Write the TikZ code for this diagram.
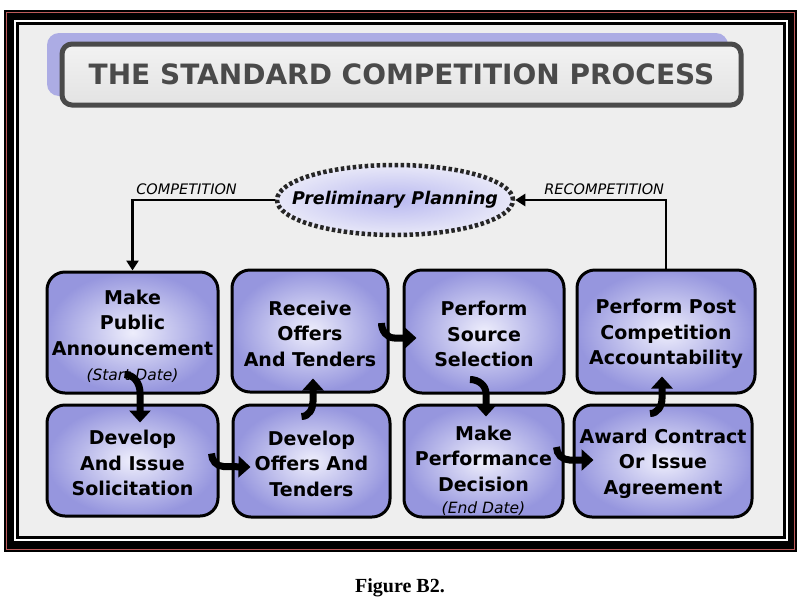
\documentclass[tikz,border=0pt]{standalone}
\usepackage{fontspec}
\setmainfont{Liberation Serif}
\setsansfont{DejaVu Sans}
\usetikzlibrary{arrows.meta,shapes.geometric}
\definecolor{bggray}{RGB}{238,238,238}
\definecolor{framered}{RGB}{190,90,90}
\definecolor{shadowblue}{RGB}{172,172,228}
\definecolor{titlegray}{RGB}{74,74,74}
\definecolor{boxedge}{RGB}{150,150,222}
\definecolor{boxmid}{RGB}{238,238,252}
\definecolor{planmid}{RGB}{185,185,240}
\definecolor{planedge}{RGB}{232,232,248}
\tikzset{
  stepbox/.style={draw=black, line width=3pt, rounded corners=18pt, shading=radial,
    inner color=boxmid, outer color=boxedge, align=center, inner sep=0pt,
    font=\sffamily\bfseries\fontsize{19}{25.5}\selectfont},
  flow/.style={line width=7pt, -{Triangle[width=21pt,length=12pt]}},
  link/.style={line width=2.5pt, -{Triangle[width=12pt,length=10pt]}},
  note/.style={font=\sffamily\itshape\fontsize{14.5}{16}\selectfont},
}
\newcommand{\datenote}[1]{{\fontsize{15.5}{17}\selectfont\mdseries\itshape #1}}
\newcommand{\lift}[1]{\rule{0pt}{#1}}
\begin{document}
\begin{tikzpicture}[x=1pt,y=-1pt]
\useasboundingbox (0,0) rectangle (800,603);
% frame
\fill[black] (4,10) rectangle (797,552);
\draw[framered, line width=0.6pt] (6.5,12.5) rectangle (794.5,549.5);
\fill[white] (14,20) rectangle (788,541);
\fill[black] (16,22) rectangle (786,539);
\fill[bggray] (19,25) rectangle (783,536);
% title
\fill[shadowblue, rounded corners=12pt] (47,33) rectangle (728,96);
\node[draw=titlegray, line width=5pt, rounded corners=10pt, top color=gray!10, bottom color=gray!22,
  minimum width=679pt, minimum height=61pt, text=titlegray,
  font=\sffamily\bfseries\fontsize{28}{30}\selectfont] (title) at (401.5,74.5) {THE STANDARD COMPETITION PROCESS};
% planning
\node[ellipse, draw=black!85, line width=4.5pt, dash pattern=on 3.5pt off 2.5pt, shading=radial,
  inner color=planmid, outer color=planedge, minimum width=236pt, minimum height=70pt,
  inner xsep=-20pt, inner ysep=0pt,
  font=\sffamily\bfseries\itshape\fontsize{17.5}{20}\selectfont] (plan) at (395,200) {Preliminary Planning};
% steps, top row
\node[stepbox, minimum width=171pt, minimum height=121pt] (b1) at (132.5,332.5) {\lift{22.5pt}Make\\Public\\Announcement\\\datenote{(Start Date)}};
\node[stepbox, minimum width=156pt, minimum height=122pt] (b2) at (310,331) {\lift{20pt}Receive\\Offers\\And Tenders};
\node[stepbox, minimum width=160pt, minimum height=123pt] (b3) at (484,331.5) {\lift{20pt}Perform\\Source\\Selection};
\node[stepbox, minimum width=178pt, minimum height=123pt] (b4) at (666,331.5) {\lift{20pt}Perform Post\\Competition\\Accountability};
% steps, bottom row
\node[stepbox, minimum width=171pt, minimum height=111pt] (b5) at (132.5,460.5) {\lift{20pt}Develop\\And Issue\\Solicitation};
\node[stepbox, minimum width=157pt, minimum height=112pt] (b6) at (311.5,461) {\lift{20pt}Develop\\Offers And\\Tenders};
\node[stepbox, minimum width=159pt, minimum height=112pt] (b7) at (483.5,461) {\lift{34pt}Make\\Performance\\Decision\\[-3pt]\datenote{(End Date)}};
\node[stepbox, minimum width=178pt, minimum height=112pt] (b8) at (663,461) {\lift{20pt}Award Contract\\Or Issue\\Agreement};
% loop back
\draw[link] (plan.west) -| node[note, pos=0.31, above=1pt] {COMPETITION} (b1.north);
\draw[link] (b4.north) |- node[note, pos=0.705, above=1pt] {RECOMPETITION} (plan.east);
% curled arrows between steps
\draw[flow] ([shift={(-8,-20)}]b1.south) to[out=0,in=90] ([shift={(7.5,-2)}]b1.south) -- ([shift={(7.5,19)}]b5.north);
\draw[flow] ([shift={(-8,-7)}]b5.east) to[out=-90,in=180] ([shift={(4,6)}]b5.east) -- ([shift={(19,6)}]b6.west);
\draw[flow] ([shift={(-10,13)}]b6.north) to[out=0,in=-90] ([shift={(1.5,-2)}]b6.north) -- ([shift={(3,-15)}]b2.south);
\draw[flow] ([shift={(-8,-8)}]b2.east) to[out=-90,in=180] ([shift={(5,7)}]b2.east) -- ([shift={(14,6.5)}]b3.west);
\draw[flow] ([shift={(-14,-15)}]b3.south) to[out=0,in=90] ([shift={(2,-1)}]b3.south) -- ([shift={(2.5,13)}]b7.north);
\draw[flow] ([shift={(-8,-14)}]b7.east) to[out=-90,in=180] ([shift={(5,-1)}]b7.east) -- ([shift={(21,-1)}]b8.west);
\draw[flow] ([shift={(-13,10)}]b8.north) to[out=0,in=-90] ([shift={(-1,-5)}]b8.north) -- ([shift={(-4,-18)}]b4.south);
% caption
\node[font=\bfseries\fontsize{20}{22}\selectfont] (cap) at (400,588) {Figure B2.};
\end{tikzpicture}
\end{document}
